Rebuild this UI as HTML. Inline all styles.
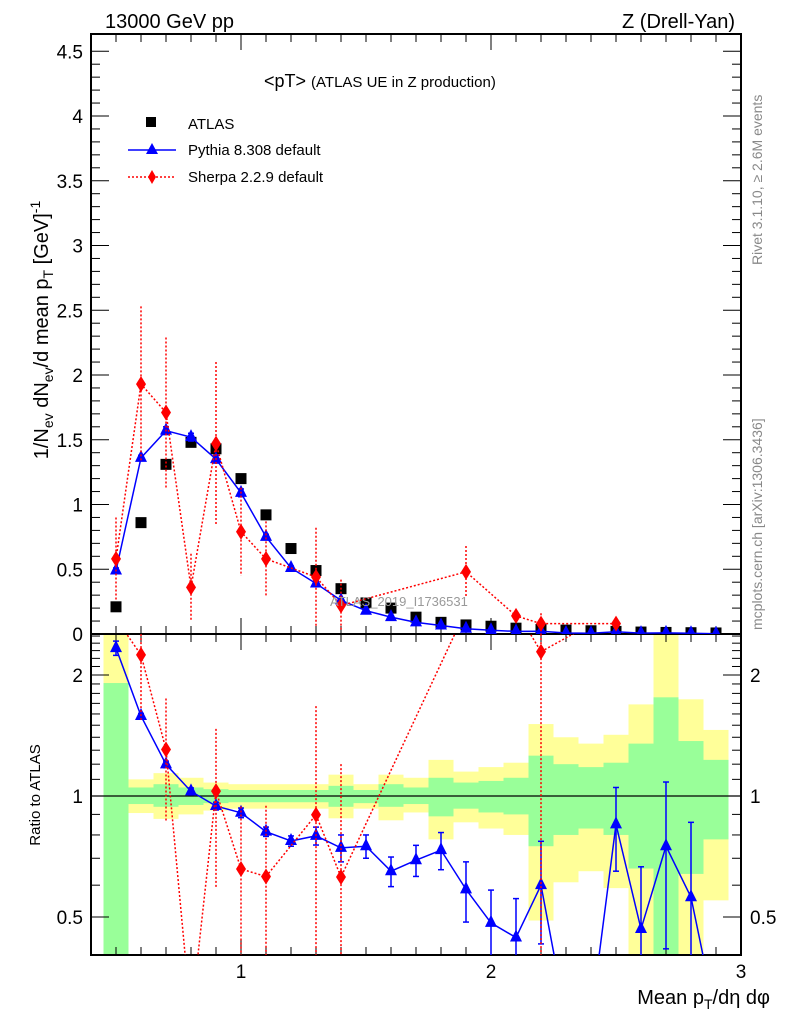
<!DOCTYPE html>
<html><head><meta charset="utf-8"><style>
html,body{margin:0;padding:0;background:#fff;width:786px;height:1024px;overflow:hidden;}
svg{display:block;font-family:"Liberation Sans",sans-serif;}
</style></head><body>
<svg id="chart" width="786" height="1024" viewBox="0 0 786 1024">
<defs>
<clipPath id="clipTop"><rect x="91" y="34" width="650" height="600"/></clipPath>
<clipPath id="clipBot"><rect x="91" y="634" width="650" height="321"/></clipPath>
</defs>
<g id="bands" clip-path="url(#clipBot)"></g>
<g id="axes"></g>
<g id="topMarks" clip-path="url(#clipTop)"></g>
<g id="botMarks" clip-path="url(#clipBot)"></g>
<text x="105" y="28" font-size="20">13000 GeV pp</text>
<text x="735" y="28" font-size="20" text-anchor="end">Z (Drell-Yan)</text>
<text x="264" y="87" font-size="18">&lt;pT&gt; <tspan font-size="15">(ATLAS UE in Z production)</tspan></text>
<g>
<rect x="146" y="117" width="10" height="10" fill="#000"/>
<text x="188" y="129" font-size="15">ATLAS</text>
<line x1="128" y1="150" x2="176" y2="150" stroke="#00f" stroke-width="1.5"/>
<polygon points="152,143 158,154 146,154" fill="#00f"/>
<text x="188" y="155" font-size="15">Pythia 8.308 default</text>
<line x1="128" y1="177" x2="176" y2="177" stroke="#f00" stroke-width="1.5" stroke-dasharray="2,2"/>
<polygon points="152,170 156,177 152,184 148,177" fill="#f00"/>
<text x="188" y="182" font-size="15">Sherpa 2.2.9 default</text>
</g>
<text x="330" y="606" font-size="13" fill="#999">ATLAS_2019_I1736531</text>
<text transform="translate(762,265) rotate(-90)" font-size="14" fill="#888">Rivet 3.1.10, ≥ 2.6M events</text>
<text transform="translate(762,630) rotate(-90)" font-size="14" fill="#888">mcplots.cern.ch [arXiv:1306.3436]</text>
<text transform="translate(48,330) rotate(-90)" font-size="20" text-anchor="middle">1/N<tspan font-size="14" dy="5">ev</tspan><tspan dy="-5"> dN</tspan><tspan font-size="14" dy="5">ev</tspan><tspan dy="-5">/d mean p</tspan><tspan font-size="14" dy="5">T</tspan><tspan dy="-5"> [GeV]</tspan><tspan font-size="14" dy="-8">-1</tspan></text>
<text transform="translate(40,795) rotate(-90)" font-size="15" text-anchor="middle">Ratio to ATLAS</text>
<text x="770" y="1004" font-size="20" text-anchor="end">Mean p<tspan font-size="14" dy="5">T</tspan><tspan dy="-5">/dη dφ</tspan></text>
</svg>
<script>
const xCenters=[0.5,0.6,0.7,0.8,0.9,1.0,1.1,1.2,1.3,1.4,1.5,1.6,1.7,1.8,1.9,2.0,2.1,2.2,2.3,2.4,2.5,2.6,2.7,2.8,2.9];
const atlasVals=[0.21,0.86,1.31,1.48,1.43,1.2,0.92,0.66,0.49,0.35,0.24,0.2,0.13,0.09,0.07,0.06,0.045,0.035,0.03,0.025,0.02,0.015,0.012,0.01,0.008];
const pythiaVals=[0.49,1.36,1.57,1.52,1.35,1.09,0.75,0.51,0.39,0.26,0.18,0.13,0.09,0.066,0.041,0.029,0.02,0.021,0.008,0.006,0.017,0.007,0.009,0.0056,0.002];
const pythiaErr=[0.02,0.02,0.03,0.03,0.03,0.03,0.02,0.015,0.02,0.02,0.012,0.011,0.008,0.007,0.007,0.006,0.005,0.006,0.004,0.004,0.004,0.003,0.004,0.003,0.0005];
const sherpaVals=[0.58,1.93,1.71,0.36,1.47,0.79,0.58,null,0.44,0.22,null,null,null,null,0.48,null,0.14,0.08,null,null,0.08,null,null,null,null];
const sherpaErr=[0.32,0.6,0.58,0.26,0.63,0.34,0.29,null,0.38,0.2,null,null,null,null,0.2,null,0.05,0.08,null,null,0.04,null,null,null,null];
const greenLo=[0.3,0.955,0.94,0.95,0.96,0.965,0.965,0.965,0.965,0.94,0.96,0.94,0.955,0.89,0.93,0.91,0.9,0.75,0.8,0.83,0.8,0.66,0.3,0.64,0.78];
const greenHi=[1.91,1.05,1.07,1.05,1.04,1.035,1.035,1.035,1.035,1.06,1.035,1.07,1.05,1.11,1.08,1.09,1.11,1.26,1.2,1.18,1.21,1.35,1.76,1.37,1.23];
const yellowLo=[0.3,0.907,0.877,0.9,0.92,0.93,0.93,0.93,0.93,0.88,0.93,0.87,0.91,0.78,0.86,0.83,0.8,0.49,0.61,0.65,0.59,0.3,0.3,0.3,0.55];
const yellowHi=[3,1.1,1.14,1.11,1.08,1.07,1.07,1.07,1.07,1.13,1.07,1.13,1.11,1.23,1.15,1.18,1.21,1.51,1.4,1.35,1.42,1.69,3,1.74,1.46];
const yTopTicks=[0,0.5,1,1.5,2,2.5,3,3.5,4,4.5];
const yTopLabels=["0","0.5","1","1.5","2","2.5","3","3.5","4","4.5"];
const xTicks=[1,2,3];
const xLabels=["1","2","3"];
const yRatioTicks=[0.5,1,2];
const yRatioLabels=["0.5","1","2"];

const NS="http://www.w3.org/2000/svg";
const X=v=>91+(v-0.4)*250;
const YT=v=>634-v*129.5;
const YR=v=>796-121*Math.log2(v);
const YRc=v=>YR(Math.min(Math.max(v,0.28),2.9));
function mk(parent,tag,attrs){const e=document.createElementNS(NS,tag);for(const k in attrs)e.setAttribute(k,attrs[k]);parent.appendChild(e);return e;}
const axes=document.getElementById('axes'),bands=document.getElementById('bands'),tm=document.getElementById('topMarks'),bm=document.getElementById('botMarks');

xCenters.forEach((c,i)=>{
  const y1=mk(bands,'rect',{x:X(c-0.05),width:25,y:YRc(yellowHi[i]),height:YRc(yellowLo[i])-YRc(yellowHi[i]),fill:'#ffff99'});
  
  
  const g1=mk(bands,'rect',{x:X(c-0.05),width:25,y:YRc(greenHi[i]),height:YRc(greenLo[i])-YRc(greenHi[i]),fill:'#99ff99'});
  
  
});
mk(axes,'line',{x1:91,x2:741,y1:YR(1),y2:YR(1),stroke:'#000','stroke-width':1.2});

mk(axes,'rect',{x:91,y:34,width:650,height:600,fill:'none',stroke:'#000','stroke-width':2});
mk(axes,'rect',{x:91,y:634,width:650,height:321,fill:'none',stroke:'#000','stroke-width':2});

for(let v=0.5;v<=3.0001;v+=0.1){
  const big=Math.abs(v-Math.round(v))<1e-6, L=big?16:8, x=X(v);
  [[34,1],[634,-1],[634,1],[955,-1]].forEach(([y,d])=>mk(axes,'line',{x1:x,x2:x,y1:y,y2:y+d*L,stroke:'#000','stroke-width':1}));
}
xTicks.forEach((v,i)=>{const t=mk(axes,'text',{x:X(v),y:978,'font-size':19,'text-anchor':'middle'});t.textContent=xLabels[i];

});

for(let k=0;k<=45;k++){const v=k*0.1,y=YT(v),big=k%5===0,L=big?18:9;
  mk(axes,'line',{x1:91,x2:91+L,y1:y,y2:y,stroke:'#000'});mk(axes,'line',{x1:741,x2:741-L,y1:y,y2:y,stroke:'#000'});}
yTopTicks.forEach((v,i)=>{const t=mk(axes,'text',{x:83,y:YT(v)+7,'font-size':19,'text-anchor':'end'});t.textContent=yTopLabels[i];

});

[0.4,0.5,0.6,0.7,0.8,0.9,1,1.1,1.2,1.3,1.4,1.5,1.6,1.7,1.8,1.9,2,2.1,2.2,2.3,2.4,2.5].forEach(v=>{
  const y=YR(v); if(y<634||y>955)return; const big=yRatioTicks.includes(v),L=big?18:9;
  mk(axes,'line',{x1:91,x2:91+L,y1:y,y2:y,stroke:'#000'});mk(axes,'line',{x1:741,x2:741-L,y1:y,y2:y,stroke:'#000'});});
yRatioTicks.forEach((v,i)=>{
  const t=mk(axes,'text',{x:83,y:YR(v)+7,'font-size':19,'text-anchor':'end'});t.textContent=yRatioLabels[i];
  
  
  const t2=mk(axes,'text',{x:750,y:YR(v)+7,'font-size':19});t2.textContent=yRatioLabels[i];
  
  });

function tri(g,x,y,c){return mk(g,'polygon',{points:`${x},${y-8} ${x+6},${y+4} ${x-6},${y+4}`,fill:c});}
function dia(g,x,y,c){return mk(g,'polygon',{points:`${x},${y-8} ${x+5},${y} ${x},${y+8} ${x-5},${y}`,fill:c});}
function errbar(g,x,y1,y2,c,dash){const a={x1:x,x2:x,y1:y1,y2:y2,stroke:c,'stroke-width':1.5};if(dash)a['stroke-dasharray']='2,2';mk(g,'line',a);
  if(!dash){mk(g,'line',{x1:x-3,x2:x+3,y1:y1,y2:y1,stroke:c,'stroke-width':1.5});mk(g,'line',{x1:x-3,x2:x+3,y1:y2,y2:y2,stroke:c,'stroke-width':1.5});}}

xCenters.forEach((c,i)=>{const s=mk(tm,'rect',{x:X(c)-5.5,y:YT(atlasVals[i])-5.5,width:11,height:11,fill:'#000'});

});
const pl=xCenters.map((c,i)=>X(c)+','+YT(pythiaVals[i])).join(' ');
mk(tm,'polyline',{points:pl,fill:'none',stroke:'#00f','stroke-width':1.5});
xCenters.forEach((c,i)=>{errbar(tm,X(c),YT(pythiaVals[i]+pythiaErr[i]),YT(pythiaVals[i]-pythiaErr[i]),'#00f');
  const p=tri(tm,X(c),YT(pythiaVals[i]),'#00f');
  
  });
const sl=xCenters.map((c,i)=>sherpaVals[i]==null?null:X(c)+','+YT(sherpaVals[i])).filter(Boolean).join(' ');
mk(tm,'polyline',{points:sl,fill:'none',stroke:'#f00','stroke-width':1.5,'stroke-dasharray':'2,2'});
xCenters.forEach((c,i)=>{if(sherpaVals[i]==null)return;
  errbar(tm,X(c),YT(sherpaVals[i]+sherpaErr[i]),YT(Math.max(0,sherpaVals[i]-sherpaErr[i])),'#f00',true);
  const d=dia(tm,X(c),YT(sherpaVals[i]),'#f00');
  
  });

const pr=xCenters.map((c,i)=>X(c)+','+YRc(pythiaVals[i]/atlasVals[i])).join(' ');
mk(bm,'polyline',{points:pr,fill:'none',stroke:'#00f','stroke-width':1.5});
xCenters.forEach((c,i)=>{const r=pythiaVals[i]/atlasVals[i],e=pythiaErr[i]/atlasVals[i];
  if(r<0.38)return;
  errbar(bm,X(c),YRc(r+e),YRc(r-e),'#00f');
  const p=tri(bm,X(c),YRc(r),'#00f');
  
  });
const sr=xCenters.map((c,i)=>sherpaVals[i]==null?null:X(c)+','+YRc(sherpaVals[i]/atlasVals[i])).filter(Boolean).join(' ');
mk(bm,'polyline',{points:sr,fill:'none',stroke:'#f00','stroke-width':1.5,'stroke-dasharray':'2,2'});
xCenters.forEach((c,i)=>{if(sherpaVals[i]==null)return;const r=sherpaVals[i]/atlasVals[i],e=sherpaErr[i]/atlasVals[i];
  if(r>2.6||r<0.38)return;
  errbar(bm,X(c),YRc(r+e),YRc(r-e),'#f00',true);
  const d=dia(bm,X(c),YRc(r),'#f00');
  
  });
</script>
</body></html>
